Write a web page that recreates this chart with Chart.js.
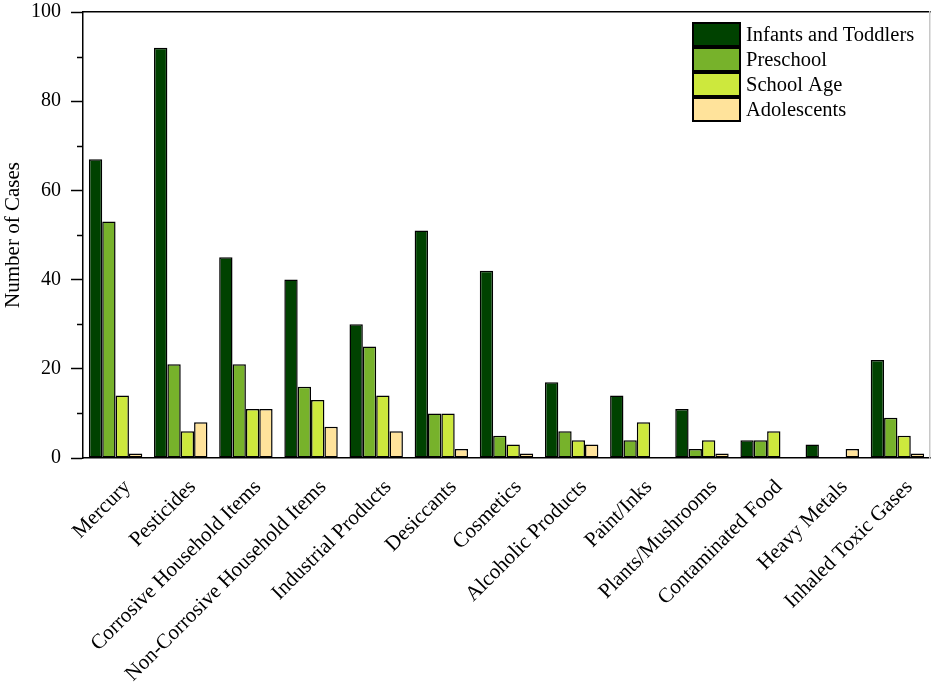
<!DOCTYPE html>
<html>
<head>
<meta charset="utf-8">
<script src="https://cdn.jsdelivr.net/npm/chart.js@4.4.1/dist/chart.umd.min.js"></script>
<style>
    html, body { margin: 0; padding: 0; background: #fff; }
    #wrap { width: 935px; height: 683px; }
</style>
</head>
<body>
<div id="wrap"><canvas id="chart" width="935" height="683"></canvas></div>
<script>
// Poisoning cases by substance and age group
const categories = [
    'Mercury', 'Pesticides', 'Corrosive Household Items', 'Non-Corrosive Household Items',
    'Industrial Products', 'Desiccants', 'Cosmetics', 'Alcoholic Products', 'Paint/Inks',
    'Plants/Mushrooms', 'Contaminated Food', 'Heavy Metals', 'Inhaled Toxic Gases'
];
const seriesNames = ['Infants and Toddlers', 'Preschool', 'School Age', 'Adolescents'];
const infantsToddlers = [67, 92, 45, 40, 30, 51, 42, 17, 14, 11, 4, 3, 22];
const preschool       = [53, 21, 21, 16, 25, 10, 5, 6, 4, 2, 4, 0, 9];
const schoolAge       = [14, 6, 11, 13, 14, 10, 3, 4, 8, 4, 6, 0, 5];
const adolescents     = [1, 8, 11, 7, 6, 2, 1, 3, 0, 1, 0, 2, 1];
const yTickValues = [0, 20, 40, 60, 80, 100];

const seriesColors = ['#004200', '#77b22b', '#cde83d', '#ffe39b'];
const FONT = 'Liberation Serif, Times New Roman, serif';

// short minor ticks between the labelled ones
const minorTicks = {
    id: 'minorTicks',
    afterDraw(chart) {
        const y = chart.scales.y;
        const ctx = chart.ctx;
        ctx.save();
        ctx.strokeStyle = '#000';
        ctx.lineWidth = 1.5;
        for (let i = 0; i < yTickValues.length - 1; i++) {
            const v = (yTickValues[i] + yTickValues[i + 1]) / 2;
            const py = Math.round(y.getPixelForValue(v)) + 0.5;
            ctx.beginPath();
            ctx.moveTo(y.right - 6, py);
            ctx.lineTo(y.right, py);
            ctx.stroke();
        }
        ctx.restore();
    }
};

// legend drawn inside the plot, top right
const insideLegend = {
    id: 'insideLegend',
    afterDraw(chart, args, opts) {
        const { ctx, chartArea } = chart;
        const x = chartArea.right - opts.right;
        let y = chartArea.top + opts.top;
        ctx.save();
        ctx.font = opts.font;
        ctx.textBaseline = 'middle';
        ctx.textAlign = 'left';
        chart.data.datasets.forEach(ds => {
            ctx.fillStyle = ds.backgroundColor;
            ctx.fillRect(x, y, opts.boxWidth, opts.boxHeight);
            ctx.lineWidth = 2;
            ctx.strokeStyle = '#000';
            ctx.strokeRect(x, y, opts.boxWidth, opts.boxHeight);
            ctx.fillStyle = '#000';
            ctx.fillText(ds.label, x + opts.boxWidth + opts.gap, y + opts.boxHeight / 2 + 1);
            y += opts.rowHeight;
        });
        ctx.restore();
    }
};

const seriesData = [infantsToddlers, preschool, schoolAge, adolescents];

const chart = new Chart(document.getElementById('chart'), {
    type: 'bar',
    data: {
        labels: categories,
        datasets: seriesNames.map((name, i) => ({
            label: name,
            data: seriesData[i],
            backgroundColor: seriesColors[i],
            borderColor: '#000',
            borderWidth: 1.5,
            borderSkipped: false,
            categoryPercentage: 0.82,
            barPercentage: 1.0
        }))
    },
    plugins: [minorTicks, insideLegend],
    options: {
        responsive: false,
        animation: false,
        devicePixelRatio: 1,
        layout: { padding: { top: 12, right: 5, left: 0, bottom: 0 } },
        plugins: {
            legend: { display: false },
            tooltip: { enabled: false },
            insideLegend: {
                right: 237, top: 11, boxWidth: 47, boxHeight: 23, rowHeight: 25, gap: 6,
                font: '20.5px ' + FONT
            }
        },
        scales: {
            x: {
                position: 'bottom',
                grid: { display: false, drawTicks: false },
                border: { color: '#000', width: 1.5 },
                ticks: {
                    autoSkip: false,
                    maxRotation: 45,
                    minRotation: 45,
                    labelOffset: 12,
                    padding: 17,
                    color: '#000',
                    font: { family: FONT, size: 21 }
                },
                afterFit(scale) {
                    scale.height = 225;
                    scale.paddingRight = 0;
                }
            },
            y: {
                position: 'left',
                min: 0,
                max: 100,
                afterBuildTicks(scale) { scale.ticks = yTickValues.map(v => ({ value: v })); },
                grid: {
                    drawOnChartArea: false,
                    tickLength: 12,
                    tickColor: '#000',
                    tickWidth: 1.5
                },
                border: { color: '#000', width: 1.5 },
                ticks: {
                    padding: 10,
                    color: '#000',
                    font: { family: FONT, size: 20 }
                },
                title: {
                    display: true,
                    text: 'Number of Cases',
                    color: '#000',
                    padding: { top: 1, bottom: 0 },
                    font: { family: FONT, size: 21 }
                },
                afterFit(scale) {
                    scale.width = 83;
                    scale.paddingTop = 0;
                    scale.paddingBottom = 0;
                }
            },
            xTop: {
                type: 'linear',
                position: 'top',
                grid: { display: false, drawTicks: false },
                border: { color: '#000', width: 1.5 },
                ticks: { display: false },
                afterFit(scale) {
                    scale.height = 0;
                    scale.paddingLeft = 0;
                    scale.paddingRight = 0;
                }
            },
            yRight: {
                type: 'linear',
                position: 'right',
                grid: { display: false, drawTicks: false },
                border: { color: '#c8c8c8', width: 1.5 },
                ticks: { display: false },
                afterFit(scale) {
                    scale.width = 0;
                    scale.paddingTop = 0;
                    scale.paddingBottom = 0;
                }
            }
        }
    }
});
</script>
</body>
</html>
